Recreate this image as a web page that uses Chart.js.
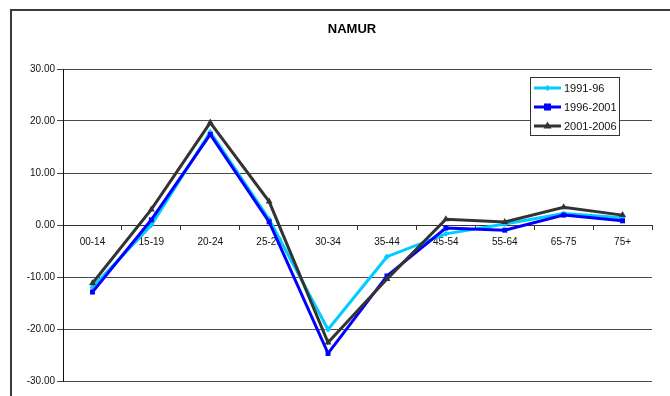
<!DOCTYPE html>
<html>
<head>
<meta charset="utf-8">
<script src="https://cdn.jsdelivr.net/npm/chart.js@4/dist/chart.umd.min.js"></script>
<style>
  html, body { margin: 0; padding: 0; background: #ffffff; }
  canvas { display: block; }
</style>
</head>
<body>
<canvas id="chart" width="670" height="396"></canvas>
<script>
// Age groups along the x axis
const ageGroups = ['00-14', '15-19', '20-24', '25-29', '30-34', '35-44', '45-54', '55-64', '65-75', '75+'];

// Migration balance per period
const period1991 = [-12.0, 0.0, 17.9, 1.1, -20.1, -6.1, -1.7, 0.2, 2.2, 1.4];
const period1996 = [-12.9, 1.0, 17.4, 0.6, -24.7, -9.8, -0.6, -1.0, 1.9, 0.8];
const period2001 = [-11.2, 3.0, 19.7, 4.5, -22.6, -10.4, 1.1, 0.6, 3.4, 1.9];

const seriesLabels = ['1991-96', '1996-2001', '2001-2006'];
const seriesColors = ['#00CCFF', '#0000FF', '#333333'];
const chartTitle = 'NAMUR';

// Value axis range
const yMin = -30;
const yMax = 30;
const yStep = 10;

const FONT = '"Liberation Sans", Arial, sans-serif';

// Outer frame around the whole chart
const framePlugin = {
  id: 'frame',
  beforeDraw(chart) {
    const ctx = chart.ctx;
    ctx.save();
    ctx.strokeStyle = '#3a3a3a';
    ctx.lineWidth = 2;
    ctx.strokeRect(11, 10, 720, 520);
    ctx.restore();
  }
};

// Title centred over the plot frame
const titlePlugin = {
  id: 'plotTitle',
  afterDraw(chart) {
    const ctx = chart.ctx;
    ctx.save();
    ctx.fillStyle = '#000000';
    ctx.font = 'bold 13px ' + FONT;
    ctx.textAlign = 'center';
    ctx.textBaseline = 'middle';
    ctx.fillText(chartTitle, 352, 29);
    ctx.restore();
  }
};

function drawMarker(ctx, style, x, y, r) {
  ctx.beginPath();
  if (style === 'rectRot') {
    ctx.moveTo(x, y - r); ctx.lineTo(x + r, y); ctx.lineTo(x, y + r); ctx.lineTo(x - r, y);
  } else if (style === 'rect') {
    ctx.rect(x - r, y - r, 2 * r, 2 * r);
  } else if (style === 'triangle') {
    ctx.moveTo(x, y - r * 1.15); ctx.lineTo(x + r, y + r * 0.6); ctx.lineTo(x - r, y + r * 0.6);
  }
  ctx.closePath();
  ctx.fill();
}

// Boxed legend in the upper right of the plot
const boxedLegend = {
  id: 'boxedLegend',
  afterDraw(chart) {
    const ctx = chart.ctx;
    const bx = 530, by = 77, bw = 89, bh = 58;
    ctx.save();
    ctx.fillStyle = '#ffffff';
    ctx.fillRect(bx, by, bw, bh);
    ctx.strokeStyle = '#333333';
    ctx.lineWidth = 1;
    ctx.strokeRect(bx + 0.5, by + 0.5, bw, bh);
    chart.data.datasets.forEach((ds, i) => {
      const cy = by + 11 + i * 19;
      ctx.strokeStyle = ds.borderColor;
      ctx.fillStyle = ds.borderColor;
      ctx.lineWidth = 3;
      ctx.beginPath();
      ctx.moveTo(534, cy);
      ctx.lineTo(561, cy);
      ctx.stroke();
      drawMarker(ctx, ds.pointStyle, 547.5, cy, ds.pointRadius);
      ctx.fillStyle = '#111111';
      ctx.font = '11px ' + FONT;
      ctx.textBaseline = 'middle';
      ctx.textAlign = 'left';
      ctx.fillText(ds.label, 564, cy + 0.5);
    });
    ctx.restore();
  }
};

const pointStyles = ['rectRot', 'rect', 'triangle'];
const pointRadii = [3, 3.5, 4];
const seriesData = [period1991, period1996, period2001];

new Chart(document.getElementById('chart'), {
  type: 'line',
  data: {
    labels: ageGroups,
    datasets: seriesData.map((values, i) => ({
      label: seriesLabels[i],
      data: values,
      borderColor: seriesColors[i],
      backgroundColor: seriesColors[i],
      borderWidth: 3,
      pointStyle: pointStyles[i],
      pointRadius: pointRadii[i],
      pointBorderWidth: 0,
      pointBackgroundColor: seriesColors[i],
      tension: 0,
      fill: false,
      order: 3 - i
    }))
  },
  options: {
    responsive: false,
    animation: false,
    devicePixelRatio: 1,
    layout: { padding: { left: 0, right: 18, top: 69, bottom: 15 } },
    plugins: {
      legend: { display: false },
      tooltip: { enabled: false },
      title: { display: false }
    },
    scales: {
      x: {
        type: 'category',
        position: { y: 0 },
        offset: true,
        grid: {
          offset: true,
          drawOnChartArea: false,
          drawTicks: true,
          tickLength: 4,
          color: '#333333'
        },
        border: { display: true, color: '#333333', width: 1 },
        ticks: {
          color: '#111111',
          font: { family: FONT, size: 10 },
          padding: 7,
          maxRotation: 0,
          autoSkip: false
        }
      },
      y: {
        min: yMin,
        max: yMax,
        afterFit(scale) { scale.width = 63; },
        grid: {
          color: '#4a4a4a',
          lineWidth: 1,
          tickLength: 6
        },
        border: { display: true, color: '#111111', width: 1 },
        ticks: {
          stepSize: yStep,
          color: '#111111',
          font: { family: FONT, size: 10 },
          padding: 2,
          callback: (v) => Number(v).toFixed(2)
        }
      }
    }
  },
  plugins: [framePlugin, titlePlugin, boxedLegend]
});
</script>
</body>
</html>
